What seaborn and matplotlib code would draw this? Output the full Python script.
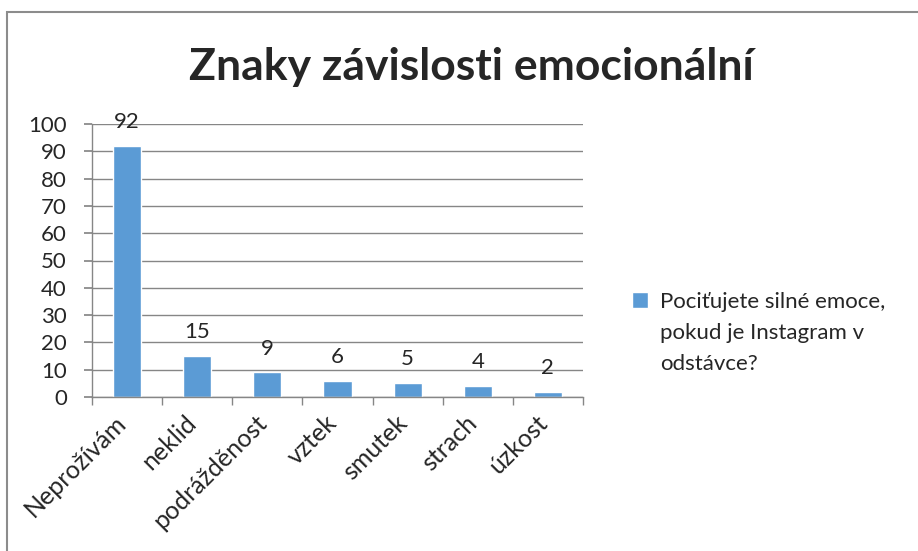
import numpy as np
import pandas as pd
import matplotlib
matplotlib.use('Agg')
import matplotlib.pyplot as plt
import matplotlib.patches as patches
from matplotlib.offsetbox import HPacker
from matplotlib.transforms import ScaledTranslation
import seaborn as sns

categories = ['Neprožívám', 'neklid', 'podrážděnost', 'vztek', 'smutek', 'strach', 'úzkost']
values = [92, 15, 9, 6, 5, 4, 2]
series_name = 'Pociťujete silné emoce,\npokud je Instagram v\nodstávce?'
title = 'Znaky závislosti emocionální'

sns.set_theme(style='white')
plt.rcParams['font.family'] = ['Lato', 'DejaVu Sans']

df = pd.DataFrame({'kategorie': categories, 'pocet': values})

fig = plt.figure(figsize=(9.18, 5.51), dpi=100)
ax = fig.add_axes([92/918, 1 - 397/551, (583 - 92)/918, (397 - 124)/551])

sns.barplot(data=df, x='kategorie', y='pocet', color='#5B9BD5', saturation=1,
            width=0.4, label=series_name, ax=ax)
ax.bar_label(ax.containers[0], fontsize=16, padding=10)

ax.set_ylim(0, 100)
ax.set_xlim(-0.5, len(categories) - 0.5)
ax.set_yticks(np.arange(0, 101, 10))
ax.yaxis.grid(True, color='#868686', lw=1)
ax.set_axisbelow(True)
ax.set_xlabel('')
ax.set_ylabel('')
for s in ['top', 'right']:
    ax.spines[s].set_visible(False)
for s in ['left', 'bottom']:
    ax.spines[s].set_color('#868686')
    ax.spines[s].set_linewidth(1)

ax.tick_params(axis='y', labelsize=16, length=6, color='#868686', direction='out', left=True, pad=12)
ax.set_xticks(np.arange(len(categories)))
ax.set_xticklabels(categories, rotation=45, ha='right', rotation_mode='anchor', fontsize=18)
ax.tick_params(axis='x', which='major', length=0, pad=10)
ax.set_xticks(np.arange(-0.5, len(categories)), minor=True)
ax.tick_params(axis='x', which='minor', length=6, color='#868686', direction='out', bottom=True)
shift = ScaledTranslation(-9/72, 0, fig.dpi_scale_trans)
for lab in ax.get_xticklabels():
    lab.set_transform(lab.get_transform() + shift)

fig.text(471/918, 1 - 80/551, title, ha='center', va='baseline', fontsize=32, fontweight='bold')

leg = ax.legend(loc='upper left', bbox_to_anchor=(612/918, 1 - 272/551), bbox_transform=fig.transFigure,
                frameon=False, fontsize=16, handlelength=0.7, handleheight=0.7, handletextpad=0.55,
                labelspacing=0.3)
leg.get_texts()[0].set_linespacing(1.7)
for hp in leg.findobj(HPacker):
    hp.align = 'top'

fig.patches.append(patches.Rectangle((7/918, -0.1), 1.2, 1 - 12/551 + 0.1, transform=fig.transFigure,
                                     fill=False, edgecolor='#8c8c8c', lw=1.5))

fig.savefig('out.png', dpi=100)
